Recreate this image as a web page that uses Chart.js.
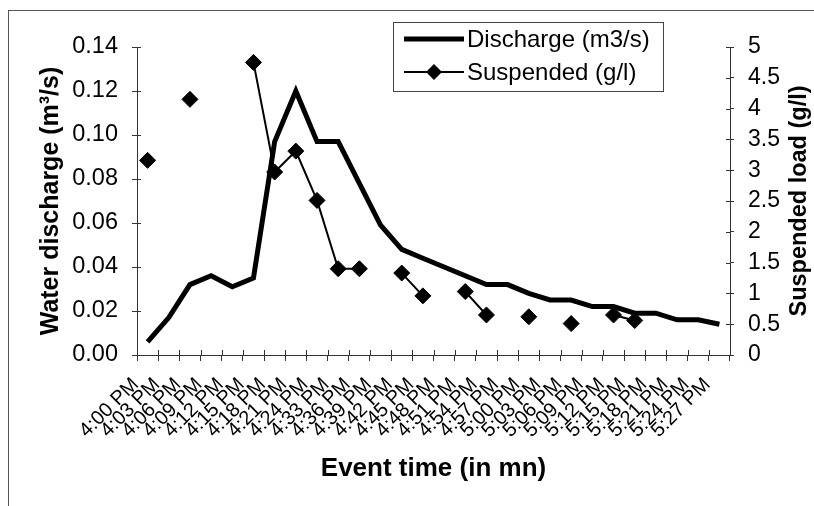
<!DOCTYPE html>
<html>
<head>
<meta charset="utf-8">
<title>Discharge and suspended load</title>
<script src="https://cdn.jsdelivr.net/npm/chart.js@4/dist/chart.umd.min.js"></script>
<style>
  html, body { margin: 0; padding: 0; background: #fff; }
  #wrap { width: 814px; height: 506px; }
</style>
</head>
<body>
<div id="wrap"><canvas id="chart" width="814" height="506"></canvas></div>
<script>
// event times (categories)
const times = ['4:00 PM', '4:03 PM', '4:06 PM', '4:09 PM', '4:12 PM', '4:15 PM', '4:18 PM',
  '4:21 PM', '4:24 PM', '4:33 PM', '4:36 PM', '4:39 PM', '4:42 PM', '4:45 PM', '4:48 PM',
  '4:51 PM', '4:54 PM', '4:57 PM', '5:00 PM', '5:03 PM', '5:06 PM', '5:09 PM', '5:12 PM',
  '5:15 PM', '5:18 PM', '5:21 PM', '5:24 PM', '5:27 PM'];

// water discharge, m3/s (left axis)
const discharge = [0.006, 0.017, 0.032, 0.036, 0.031, 0.035, 0.097, 0.120, 0.097, 0.097,
  0.078, 0.059, 0.048, 0.044, 0.040, 0.036, 0.032, 0.032, 0.028, 0.025, 0.025, 0.022,
  0.022, 0.019, 0.019, 0.016, 0.016, 0.014];

// suspended load, g/l (right axis), null where no sample
const suspended = [3.16, null, 4.15, null, null, 4.75, 2.97, 3.31, 2.51, 1.40, 1.40, null,
  1.33, 0.96, null, 1.03, 0.65, null, 0.62, null, 0.51, null, 0.65, 0.56, null, null, null, null];

const FONT = "'Liberation Sans', Arial, sans-serif";
const AXIS = '#333';

// frame, inner tick marks, right title and boxed legend
const extras = {
  id: 'extras',
  beforeDraw(chart) {
    const ctx = chart.ctx;
    ctx.save();
    ctx.strokeStyle = '#555';
    ctx.lineWidth = 1;
    ctx.beginPath();
    ctx.moveTo(8, 10.5);
    ctx.lineTo(814, 10.5);
    ctx.moveTo(8.5, 10);
    ctx.lineTo(8.5, 506);
    ctx.stroke();
    ctx.restore();
  },
  afterDatasetsDraw(chart) {
    const ctx = chart.ctx;
    const { x, y, y1 } = chart.scales;
    const area = chart.chartArea;
    ctx.save();
    ctx.strokeStyle = AXIS;
    ctx.lineWidth = 1;
    ctx.beginPath();
    y.ticks.forEach((t, i) => {
      const py = Math.round(y.getPixelForTick(i)) + 0.5;
      ctx.moveTo(area.left, py);
      ctx.lineTo(area.left + 4, py);
    });
    y1.ticks.forEach((t, i) => {
      const py = Math.round(y1.getPixelForTick(i)) + 0.5;
      ctx.moveTo(area.right, py);
      ctx.lineTo(area.right - 4, py);
    });
    for (let i = 0; i <= times.length; i++) {
      const px = Math.round(x.getPixelForValue(i - 0.5)) + 0.5;
      ctx.moveTo(px, area.bottom);
      ctx.lineTo(px, area.bottom - 5);
    }
    ctx.stroke();

    // right axis title, reading bottom to top
    ctx.fillStyle = '#000';
    ctx.font = 'bold 23.5px ' + FONT;
    ctx.textAlign = 'center';
    ctx.textBaseline = 'middle';
    ctx.translate(800, (area.top + area.bottom) / 2);
    ctx.rotate(-Math.PI / 2);
    ctx.fillText('Suspended load (g/l)', 0, 0);
    ctx.restore();

    // legend box
    const ds = chart.data.datasets;
    ctx.save();
    ctx.fillStyle = '#fff';
    ctx.fillRect(393, 22, 270, 69);
    ctx.strokeStyle = '#444';
    ctx.lineWidth = 1;
    ctx.strokeRect(393.5, 22.5, 270, 69);
    ctx.font = '24px ' + FONT;
    ctx.textBaseline = 'middle';
    ctx.textAlign = 'left';
    const rows = [39, 72];
    ds.forEach((d, i) => {
      const ry = rows[i];
      ctx.strokeStyle = d.borderColor;
      ctx.lineWidth = d.borderWidth;
      ctx.beginPath();
      ctx.moveTo(404, ry);
      ctx.lineTo(464, ry);
      ctx.stroke();
      if (d.pointRadius > 0) {
        ctx.fillStyle = d.pointBackgroundColor;
        ctx.beginPath();
        ctx.moveTo(434 - d.pointRadius, ry);
        ctx.lineTo(434, ry - d.pointRadius);
        ctx.lineTo(434 + d.pointRadius, ry);
        ctx.lineTo(434, ry + d.pointRadius);
        ctx.closePath();
        ctx.fill();
      }
      ctx.fillStyle = '#000';
      ctx.fillText(d.label, 467, ry + 1);
    });
    ctx.restore();
  }
};

new Chart(document.getElementById('chart'), {
  type: 'line',
  data: {
    labels: times,
    datasets: [
      {
        label: 'Discharge (m3/s)',
        data: discharge,
        yAxisID: 'y',
        borderColor: '#000',
        borderWidth: 5,
        pointRadius: 0,
        tension: 0,
        fill: false
      },
      {
        label: 'Suspended (g/l)',
        data: suspended,
        yAxisID: 'y1',
        borderColor: '#000',
        borderWidth: 2,
        pointStyle: 'rectRot',
        pointRadius: 8,
        pointBorderWidth: 1,
        pointBackgroundColor: '#000',
        pointBorderColor: '#000',
        spanGaps: false,
        tension: 0,
        fill: false
      }
    ]
  },
  options: {
    responsive: false,
    animation: false,
    layout: { padding: { top: 47, left: 0, right: 0, bottom: 0 } },
    plugins: {
      legend: { display: false },
      tooltip: { enabled: false }
    },
    scales: {
      x: {
        offset: true,
        grid: { offset: true, drawOnChartArea: false, tickLength: 6, color: AXIS },
        border: { color: AXIS },
        ticks: {
          autoSkip: false,
          maxRotation: 45,
          minRotation: 45,
          padding: 12,
          labelOffset: -12,
          color: '#000',
          font: { family: FONT, size: 20 }
        },
        title: {
          display: true,
          text: 'Event time (in mn)',
          color: '#000',
          font: { family: FONT, size: 26, weight: 'bold' },
          padding: { top: 0, bottom: 22 }
        },
        afterFit(s) { s.height = 151; }
      },
      y: {
        position: 'left',
        min: 0,
        max: 0.14,
        grid: { drawOnChartArea: false, tickLength: 5, color: AXIS },
        border: { color: AXIS },
        ticks: {
          stepSize: 0.02,
          padding: 14,
          color: '#000',
          font: { family: FONT, size: 23.5 },
          callback: v => v.toFixed(2)
        },
        title: {
          display: true,
          text: 'Water discharge (m³/s)',
          color: '#000',
          font: { family: FONT, size: 25, weight: 'bold' },
          padding: { top: 36, bottom: 0 }
        },
        afterFit(s) { s.width = 137; }
      },
      y1: {
        position: 'right',
        min: 0,
        max: 5,
        grid: { drawOnChartArea: false, tickLength: 4, color: AXIS },
        border: { color: AXIS },
        ticks: {
          stepSize: 0.5,
          padding: 14,
          color: '#000',
          font: { family: FONT, size: 23 },
          callback: v => String(Math.round(v * 10) / 10)
        },
        afterFit(s) { s.width = 84; }
      }
    }
  },
  plugins: [extras]
});
</script>
</body>
</html>
